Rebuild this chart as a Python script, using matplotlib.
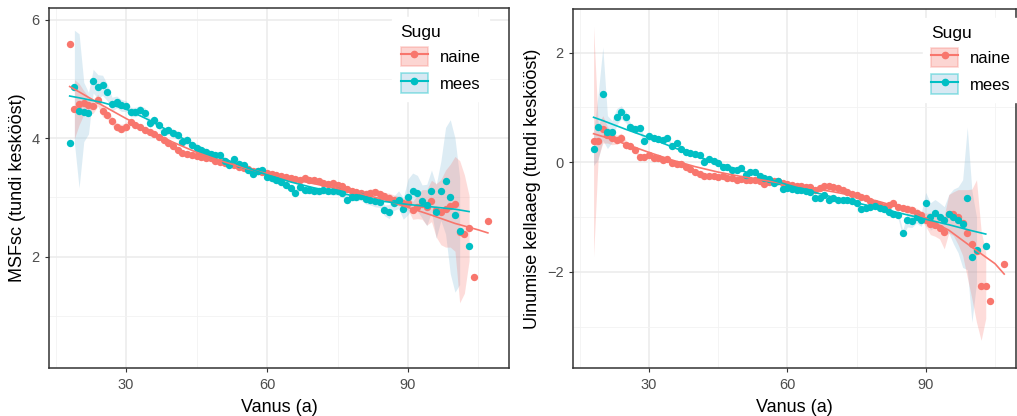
import numpy as np
import matplotlib
matplotlib.use("Agg")
import matplotlib.pyplot as plt
from matplotlib.patches import Patch
from matplotlib.lines import Line2D
from matplotlib.legend_handler import HandlerTuple

plt.rcParams['font.family'] = ['Liberation Sans', 'DejaVu Sans']

# ---- data ----
age_naine = list(range(18, 105)) + [107]
age_mees = list(range(18, 102)) + [103]

msf_naine = [5.58, 4.49, 4.57, 4.60, 4.55, 4.54, 4.64, 4.45, 4.39, 4.29,
             4.19, 4.16, 4.19, 4.27, 4.22, 4.19, 4.14, 4.10, 4.07, 4.02,
             3.97, 3.91, 3.86, 3.80, 3.75, 3.73, 3.72, 3.70, 3.68, 3.67,
             3.66, 3.62, 3.60, 3.58, 3.57, 3.55, 3.51, 3.49, 3.47, 3.45,
             3.44, 3.42, 3.41, 3.40, 3.37, 3.36, 3.34, 3.33, 3.31, 3.30,
             3.32, 3.29, 3.30, 3.27, 3.25, 3.23, 3.24, 3.20, 3.19, 3.14,
             3.10, 3.09, 3.07, 3.06, 3.08, 3.09, 3.06, 3.02, 2.99, 2.96,
             2.94, 2.90, 2.91, 2.78, 2.84, 2.88, 2.83, 2.94, 2.78, 2.75,
             2.81, 2.86, 2.89, 2.42, 2.38, 2.48, 1.66, 2.60]
msf_mees = [3.92, 4.87, 4.46, 4.44, 4.42, 4.96, 4.87, 4.89, 4.77, 4.57,
            4.61, 4.55, 4.54, 4.44, 4.44, 4.47, 4.43, 4.25, 4.30, 4.22,
            4.11, 4.13, 4.08, 4.05, 3.94, 3.97, 3.88, 3.84, 3.80, 3.77,
            3.73, 3.71, 3.71, 3.62, 3.54, 3.64, 3.57, 3.54, 3.46, 3.40,
            3.44, 3.46, 3.35, 3.32, 3.29, 3.26, 3.21, 3.15, 3.07, 3.18,
            3.12, 3.12, 3.11, 3.10, 3.12, 3.11, 3.10, 3.10, 3.08, 2.96,
            3.01, 3.01, 3.02, 2.98, 2.96, 2.93, 2.92, 2.78, 2.76, 2.90,
            2.96, 2.81, 3.01, 3.11, 3.07, 2.93, 2.87, 3.11, 2.76, 3.11,
            3.28, 3.01, 2.70, 2.43, 2.18]
uin_naine = [0.38, 0.38, 0.60, 0.50, 0.44, 0.41, 0.45, 0.32, 0.30, 0.22,
             0.09, 0.10, 0.13, 0.07, 0.07, 0.04, 0.06, -0.02, -0.04, -0.04,
             -0.08, -0.12, -0.18, -0.22, -0.25, -0.26, -0.25, -0.27, -0.26, -0.28,
             -0.29, -0.32, -0.30, -0.32, -0.32, -0.33, -0.35, -0.40, -0.36, -0.34,
             -0.34, -0.37, -0.39, -0.42, -0.43, -0.44, -0.45, -0.46, -0.51, -0.47,
             -0.44, -0.44, -0.45, -0.47, -0.51, -0.55, -0.58, -0.60, -0.63, -0.66,
             -0.70, -0.75, -0.78, -0.81, -0.78, -0.74, -0.81, -0.84, -0.86, -0.88,
             -0.92, -0.97, -1.05, -1.12, -1.15, -1.20, -1.28, -0.94, -0.94, -1.00,
             -1.10, -1.30, -1.49, -1.62, -2.25, -2.25, -2.53, -1.85]
uin_mees = [0.24, 0.65, 1.25, 0.55, 0.56, 0.83, 0.91, 0.82, 0.64, 0.60,
            0.62, 0.38, 0.47, 0.44, 0.42, 0.41, 0.44, 0.29, 0.35, 0.25,
            0.19, 0.16, 0.15, 0.13, 0.01, 0.05, 0.02, -0.02, -0.08, -0.09,
            -0.14, -0.14, -0.11, -0.23, -0.18, -0.17, -0.26, -0.29, -0.30, -0.38,
            -0.35, -0.48, -0.47, -0.48, -0.50, -0.51, -0.53, -0.54, -0.66, -0.66,
            -0.60, -0.68, -0.66, -0.69, -0.68, -0.68, -0.70, -0.74, -0.86, -0.84,
            -0.82, -0.80, -0.84, -0.86, -0.90, -0.94, -0.96, -1.30, -1.06, -1.07,
            -0.99, -1.05, -0.75, -0.99, -0.93, -0.99, -1.06, -0.94, -0.99, -1.05,
            -1.12, -0.66, -1.72, -1.60, -1.52]

# ribbon half widths (confidence band), nan = no band
hw_msf_naine = [np.nan, 0.5, 0.35, 0.2, 0.15, 0.12, 0.1, 0.09, 0.07, 0.07,
                0.07, 0.07, 0.07] + [0.05] * 50 + [0.06] * 5 + [0.08] * 4 + \
               [0.12, 0.15, 0.2, 0.25, 0.3, 0.35, 0.45, 0.55, 0.65, 0.7,
                0.8, 1.2, 1.0, 0.55, np.nan, np.nan]
hw_msf_mees = [np.nan, 0.95, 1.3, 0.5, 0.35, 0.2, 0.2, 0.17, 0.14, 0.12,
               0.1, 0.1, 0.09] + [0.08] * 5 + [0.07] * 10 + [0.06] * 30 + \
              [0.07] * 5 + [0.09] * 5 + \
              [0.12, 0.12, 0.15, 0.18, 0.3, 0.3, 0.3, 0.28, 0.35, 0.35,
               0.45, 0.5, 0.9, 1.3, 1.3, 0.9, np.nan]
hw_uin_naine = [2.1, 0.3, 0.25, 0.15, 0.12, 0.08, 0.08, 0.08] + [0.04] * 60 + \
               [0.08] * 4 + \
               [0.12, 0.2, 0.2, 0.2, 0.3, 0.35, 0.4, 0.5, 0.6, 0.8,
                1.0, 1.3, 1.0, 0.6, np.nan, np.nan]
hw_uin_mees = [0.3, 0.6, 0.85, 0.3, 0.2, 0.15, 0.12, 0.1, 0.07, 0.07,
               0.07, 0.07, 0.07] + [0.04] * 50 + [0.06] * 5 + [0.12] * 4 + \
              [0.2, 0.25, 0.25, 0.25, 0.25, 0.35, 0.5, 0.6, 0.8, 1.3,
               1.2, 0.6, np.nan]

# smoothed trend lines
fit_age_naine = [18, 20, 25, 30, 35, 40, 45, 50, 55, 60, 65, 70, 75, 80, 85, 90, 95, 100, 105, 107]
fit_age_mees = [18, 20, 25, 30, 35, 40, 45, 50, 55, 60, 65, 70, 75, 80, 85, 90, 95, 100, 103]
fit_msf_naine = [4.87, 4.78, 4.55, 4.33, 4.12, 3.93, 3.76, 3.62, 3.50, 3.40,
                 3.31, 3.23, 3.15, 3.06, 2.96, 2.83, 2.70, 2.56, 2.45, 2.40]
fit_msf_mees = [4.71, 4.68, 4.60, 4.49, 4.30, 4.08, 3.87, 3.68, 3.52, 3.38,
                3.26, 3.16, 3.08, 3.00, 2.93, 2.88, 2.84, 2.80, 2.76]
fit_uin_naine = [0.52, 0.47, 0.33, 0.18, 0.04, -0.08, -0.18, -0.26, -0.33, -0.40,
                 -0.47, -0.54, -0.62, -0.72, -0.84, -1.02, -1.24, -1.55, -1.85, -2.04]
fit_uin_mees = [0.82, 0.76, 0.60, 0.45, 0.28, 0.12, -0.02, -0.15, -0.28, -0.41,
                -0.53, -0.64, -0.74, -0.84, -0.94, -1.04, -1.14, -1.25, -1.31]

col_naine = '#F8766D'
col_mees = '#00BFC4'
fill_naine = '#F8766D'
fill_mees = '#9ECAE1'


def panel(ax, ylab, yn, ym, hwn, hwm, fyn, fym, ylim, yticks, yminor, leg_xy):
    an = np.array(age_naine); am = np.array(age_mees)
    yn = np.array(yn); ym = np.array(ym)
    hwn = np.array(hwn, dtype=float); hwm = np.array(hwm, dtype=float)
    ax.fill_between(am, ym - hwm, ym + hwm, color=fill_mees, alpha=0.35, lw=0, zorder=2)
    ax.fill_between(an, yn - hwn, yn + hwn, color=fill_naine, alpha=0.25, lw=0, zorder=2)
    ax.plot(fit_age_naine, fyn, color=col_naine, lw=1.2, zorder=4)
    ax.plot(fit_age_mees, fym, color=col_mees, lw=1.2, zorder=4)
    ax.scatter(an, yn, s=28, color=col_naine, lw=0, zorder=3)
    ax.scatter(am, ym, s=28, color=col_mees, lw=0, zorder=3)

    ax.set_xlim(13.6, 111.5)
    ax.set_ylim(*ylim)
    ax.set_xticks([30, 60, 90])
    ax.set_xticks([15, 45, 75, 105], minor=True)
    ax.set_yticks(yticks)
    ax.set_yticks(yminor, minor=True)
    ax.grid(True, which='major', color='#EBEBEB', lw=1.1, zorder=0)
    ax.grid(True, which='minor', color='#F2F2F2', lw=0.6, zorder=0)
    ax.set_axisbelow(True)
    ax.tick_params(which='major', length=3, color='#333333', labelsize=10.5,
                   labelcolor='#4D4D4D', pad=4)
    ax.tick_params(which='minor', length=0)
    for s in ax.spines.values():
        s.set_color('#333333')
        s.set_linewidth(1.1)
    ax.set_xlabel('Vanus (a)', fontsize=13, labelpad=5)
    ax.set_ylabel(ylab, fontsize=13, labelpad=4)

    h_n = (Patch(facecolor=fill_naine, alpha=0.3, edgecolor=col_naine, lw=1.2),
           Line2D([], [], color=col_naine, lw=1.5, marker='o', ms=4.5))
    h_m = (Patch(facecolor=fill_mees, alpha=0.4, edgecolor=col_mees, lw=1.2),
           Line2D([], [], color=col_mees, lw=1.5, marker='o', ms=4.5))
    leg = ax.legend([h_n, h_m], ['naine', 'mees'], title='Sugu',
                    handler_map={tuple: HandlerTuple(ndivide=1, pad=0)},
                    loc='upper left', bbox_to_anchor=leg_xy,
                    frameon=True, fontsize=12, title_fontsize=12.5,
                    handlelength=1.65, handleheight=1.45, labelspacing=0.4,
                    handletextpad=0.7, borderpad=0.5)
    leg.get_frame().set_edgecolor('white')
    leg.get_frame().set_facecolor('white')
    leg.get_frame().set_alpha(1)
    leg._legend_box.align = 'left'


fig = plt.figure(figsize=(10.17, 4.16), dpi=100)
ax1 = fig.add_axes([0.0482, 0.1154, 0.4523, 0.8646])
ax2 = fig.add_axes([0.5637, 0.1146, 0.4355, 0.8630])

panel(ax1, 'MSFsc (tundi keskööst)', msf_naine, msf_mees, hw_msf_naine, hw_msf_mees,
      fit_msf_naine, fit_msf_mees, (0.12, 6.19), [2, 4, 6], [1, 3, 5], (0.728, 1.0))
panel(ax2, 'Uinumise kellaaeg (tundi keskööst)', uin_naine, uin_mees, hw_uin_naine, hw_uin_mees,
      fit_uin_naine, fit_uin_mees, (-3.76, 2.79), [-2, 0, 2], [-3, -1, 1], (0.77, 1.0))
ax2.set_xlim(13.6, 109.6)

fig.savefig('out.png', dpi=100)
